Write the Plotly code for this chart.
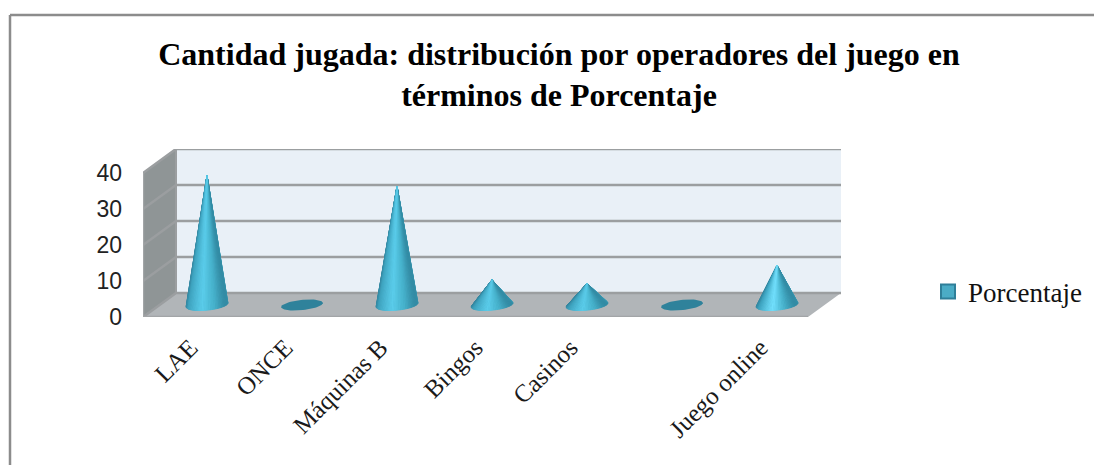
import math
import plotly.graph_objects as go

categories = ["LAE", "ONCE", "Máquinas B", "Bingos", "Casinos", " ", "Juego online"]
values = [36, 0, 33, 7, 6, 0, 11]
y_ticks = [0, 10, 20, 30, 40]
series_name = "Porcentaje"
title_text = "Cantidad jugada: distribución por operadores del juego en<br>términos de Porcentaje"

W, H = 1094, 465
L, B, PX_CAT, PX_UNIT = 143, 317, 95.0, 3.6
DEPTH_X, DEPTH_Y = 33 / PX_CAT, 24 / PX_UNIT
Y_TOP = 40
X0, X1 = -0.5, len(categories) - 0.5


def proj(x, v, d):
    return x + d * DEPTH_X, v + d * DEPTH_Y


def lerp(c1, c2, f):
    return tuple(c1[i] + (c2[i] - c1[i]) * f for i in range(3))


def shade(u, peak):
    stops = [(0.0, (50, 130, 155)), (0.2, (64, 166, 194)), (0.58, peak), (0.85, (70, 176, 202)), (1.0, (52, 140, 165))]
    for (a, ca), (b, cb) in zip(stops, stops[1:]):
        if u <= b:
            c = lerp(ca, cb, (u - a) / (b - a))
            return "rgb(%d,%d,%d)" % c
    return "rgb(52,140,165)"


fig = go.Figure()


def poly(points, fill, line=None, width=0):
    xs, ys = zip(*points)
    fig.add_trace(go.Scatter(x=list(xs), y=list(ys), mode="lines", fill="toself", fillcolor=fill,
                             line=dict(color=line or fill, width=width), hoverinfo="skip",
                             showlegend=False, cliponaxis=False))


def seg(points, color, width):
    xs, ys = zip(*points)
    fig.add_trace(go.Scatter(x=list(xs), y=list(ys), mode="lines", line=dict(color=color, width=width),
                             hoverinfo="skip", showlegend=False, cliponaxis=False))


# Walls and floor
poly([proj(X0, 0, 1), proj(X1, 0, 1), proj(X1, Y_TOP, 1), proj(X0, Y_TOP, 1)], "#e9f0f7")
poly([proj(X0, 0, 0), proj(X0, 0, 1), proj(X0, Y_TOP, 1), proj(X0, Y_TOP, 0)], "#8f9596")
poly([proj(X0, 0, 0), proj(X1, 0, 0), proj(X1, 0, 1), proj(X0, 0, 1)], "#b1b5b8")

for t in y_ticks:
    seg([proj(X0, t, 0), proj(X0, t, 1), proj(X1, t, 1)], "#9b9ea0", 2.6)
seg([proj(X0, Y_TOP, 0), proj(X0, 0, 0), proj(X1, 0, 0)], "#a2a5a7", 2.4)
seg([proj(X0, 0, 1), proj(X0, Y_TOP, 1)], "#9b9ea0", 2)

# Cones
A, Bd = 0.205, 0.23
N = 72
for i, v in enumerate(values):
    ell = []
    for k in range(61):
        t = 2 * math.pi * k / 60
        ell.append(proj(i + A * math.cos(t), 0, 0.5 + Bd * math.sin(t)))
    poly(ell, "#2f829b")
    if v <= 0:
        continue
    peak = (115, 226, 255) if i == len(values) - 1 else (92, 206, 236)
    apex = proj(i, v, 0.5)
    wedges = []
    for k in range(N):
        t0 = 2 * math.pi * k / N
        t1 = 2 * math.pi * (k + 1) / N
        wedges.append((t0, t1))
    wedges.sort(key=lambda w: -math.sin((w[0] + w[1]) / 2))
    for t0, t1 in wedges:
        mid = (t0 + t1) / 2
        u = (math.cos(mid) + 1) / 2
        p0 = proj(i + A * math.cos(t0), 0, 0.5 + Bd * math.sin(t0))
        p1 = proj(i + A * math.cos(t1), 0, 0.5 + Bd * math.sin(t1))
        poly([apex, p0, p1], shade(u, peak), width=1)

# Legend entry
fig.add_trace(go.Scatter(x=[None], y=[None], mode="markers", name=series_name,
                         marker=dict(symbol="square", size=14, color="#4bacc6",
                                     line=dict(color="#2f7f99", width=2)), showlegend=True))

# Outer frame
frame = dict(color="#8c8c8c", width=2.5)
shapes = [
    dict(type="line", xref="paper", yref="paper", x0=10 / W, x1=1, y0=1 - 15 / H, y1=1 - 15 / H, line=frame),
    dict(type="line", xref="paper", yref="paper", x0=10 / W, x1=10 / W, y0=0, y1=1 - 15 / H, line=frame),
]

plot_right = proj(X1, 0, 1)[0]
fig.update_layout(
    width=W, height=H, margin=dict(l=0, r=0, t=0, b=0), autosize=False,
    paper_bgcolor="white", plot_bgcolor="rgba(0,0,0,0)", shapes=shapes,
    title=dict(text=title_text, x=559 / W, xanchor="center", y=1 - 64.5 / H, yanchor="middle",
               font=dict(family="Liberation Serif", size=32, color="black", weight="bold")),
    xaxis=dict(domain=[L / W, (L + (plot_right - X0) * PX_CAT) / W], range=[X0, plot_right], automargin=False,
               tickvals=list(range(len(categories))), ticktext=categories, tickangle=-45,
               showgrid=False, zeroline=False, showline=False, ticks="", ticklabelstandoff=10,
               tickfont=dict(family="Liberation Serif", size=25, color="#1a1a1a")),
    yaxis=dict(domain=[1 - B / H, 1 - (B - (Y_TOP + DEPTH_Y) * PX_UNIT) / H], range=[0, Y_TOP + DEPTH_Y],
               automargin=False, tickvals=y_ticks, showgrid=False, zeroline=False, showline=False, ticks="",
               ticklabelstandoff=20,
               tickfont=dict(family="Liberation Sans", size=23, color="#222222")),
    legend=dict(x=928 / W, xanchor="left", y=1 - 292 / H, yanchor="middle", bgcolor="rgba(0,0,0,0)",
                font=dict(family="Liberation Serif", size=27, color="#111111")),
)

fig.write_html("out.html", post_script="document.body.style.margin='0';document.body.style.overflow='hidden';",
               config=dict(displayModeBar=False))
